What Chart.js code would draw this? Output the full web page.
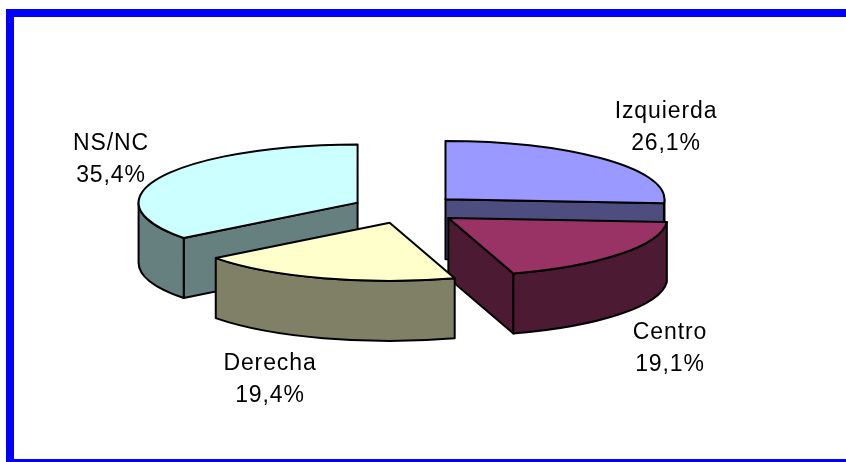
<!DOCTYPE html>
<html>
<head>
<meta charset="utf-8">
<style>html,body{margin:0;padding:0;background:#fff;overflow:hidden}#wrap{width:846px;height:462px;position:relative}</style>
<script src="https://cdn.jsdelivr.net/npm/chart.js@4"></script>
</head>
<body>
<div id="wrap"><canvas id="c" width="846" height="462"></canvas></div>
<script>
const categories = ['Izquierda', 'Centro', 'Derecha', 'NS/NC'];
const shares = [26.1, 19.1, 19.4, 35.4];
const topColors = ['#9999FF', '#993366', '#FFFFCC', '#CCFFFF'];
const sideColors = ['#4D4D80', '#4D1A33', '#808066', '#668080'];
const paintOrder = [3, 0, 1, 2];
const labelCentres = [[666, 111.5], [670, 332.5], [270, 363.5], [111, 143.5]];
const FLAT = 0.266, DEPTH = 60, LINE = 32;

const pie3d = {
  id: 'pie3d',
  beforeDraw(chart) {
    const g = chart.ctx;
    g.save();
    g.fillStyle = '#fff'; g.fillRect(0, 0, 846, 462);
    g.fillStyle = '#0000FF';
    g.fillRect(6, 9, 840, 8);
    g.fillRect(6, 9, 8, 453);
    g.fillRect(6, 459, 840, 3);
    g.restore();
  },
  beforeDatasetsDraw(chart) {
    const g = chart.ctx, arcs = chart.getDatasetMeta(0).data;
    paintOrder.forEach(i => {
      const a = arcs[i], o = a.options, r = a.outerRadius, s = a.startAngle, e = a.endAngle;
      const mid = (s + e) / 2;
      const shift = o.offset / 4; // the arc element moves a slice by a quarter of its offset
      const cx = a.x + Math.cos(mid) * shift;
      const cy = a.y + Math.sin(mid) * shift * FLAT;
      const px = t => cx + Math.cos(t) * r;
      const py = t => cy + Math.sin(t) * r * FLAT;
      g.save();
      g.lineWidth = 2; g.strokeStyle = '#000'; g.lineJoin = 'round'; g.fillStyle = sideColors[i];
      const face = t => {
        g.beginPath(); g.moveTo(cx, cy); g.lineTo(px(t), py(t));
        g.lineTo(px(t), py(t) + DEPTH); g.lineTo(cx, cy + DEPTH); g.closePath(); g.fill(); g.stroke();
      };
      if (-Math.cos(s) > 1e-6) face(s);
      if (Math.cos(e) > 1e-6) face(e);
      const t0 = Math.max(s, 0), t1 = Math.min(e, Math.PI);
      if (t1 > t0) {
        g.beginPath();
        g.ellipse(cx, cy, r, r * FLAT, 0, t0, t1);
        g.lineTo(px(t1), py(t1) + DEPTH);
        g.ellipse(cx, cy + DEPTH, r, r * FLAT, 0, t1, t0, true);
        g.closePath(); g.fill(); g.stroke();
      }
      // the arc element also grows its radius by offset * (1 - sin(sweep)); undo that for the top face
      const grow = shift * (1 - Math.sin(Math.min(Math.PI, e - s)));
      g.save();
      g.translate(0, a.y); g.scale(1, FLAT); g.translate(0, -a.y);
      a.outerRadius = r - grow;
      a.draw(g);
      a.outerRadius = r;
      g.restore();
      g.beginPath(); g.moveTo(cx, cy); g.ellipse(cx, cy, r, r * FLAT, 0, s, e); g.closePath(); g.stroke();
      g.restore();
    });
    return false;
  },
  afterDraw(chart) {
    const g = chart.ctx;
    g.save();
    g.fillStyle = '#000'; g.font = '23px "Liberation Sans", Arial, sans-serif';
    g.letterSpacing = '0.9px';
    g.textAlign = 'center'; g.textBaseline = 'middle';
    categories.forEach((c, i) => {
      const [x, y] = labelCentres[i];
      g.fillText(c, x, y);
      g.fillText(shares[i].toFixed(1).replace('.', ',') + '%', x, y + LINE);
    });
    g.restore();
  }
};

new Chart(document.getElementById('c'), {
  type: 'pie',
  data: { labels: categories, datasets: [{ data: shares, backgroundColor: topColors, borderWidth: 0, offset: 216 }] },
  options: {
    responsive: false, animation: false, radius: 219,
    layout: { padding: { right: 34, bottom: 44 } },
    plugins: { legend: { display: false }, tooltip: { enabled: false } }
  },
  plugins: [pie3d]
});
</script>
</body>
</html>
